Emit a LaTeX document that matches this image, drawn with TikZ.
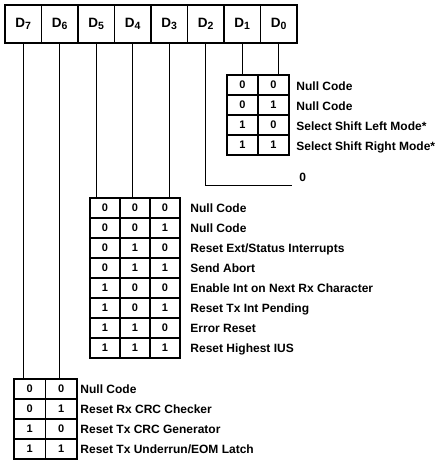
\documentclass[tikz,border=0pt]{standalone}
\usepackage{fontspec}
\setmainfont{Liberation Sans}
\usetikzlibrary{positioning}
\newcommand{\dsub}[1]{D\raisebox{-0.35ex}{\fontsize{10.5}{12}\selectfont #1}}

\begin{document}
\begin{tikzpicture}[x=1pt,y=-1pt,line width=0.9pt,
  reg/.style={draw,line width=1.7pt,minimum width=36.5pt,minimum height=38pt,
    inner sep=0pt,outer sep=0pt,font=\bfseries\fontsize{13.5}{15}\selectfont},
  bit/.style={draw,line width=1.2pt,minimum height=20pt,inner sep=0pt,
    outer sep=0pt,font=\bfseries\fontsize{11}{12}\selectfont},
  txt/.style={anchor=base west,inner sep=0pt,font=\bfseries\fontsize{12}{14}\selectfont}]
  \useasboundingbox (0,0) rectangle (436,460);
  % register bits
  \node[reg] (d7) at (23.25,24) {\dsub{7}};
  \node[reg,right=0pt of d7] (d6) {\dsub{6}};
  \node[reg,right=0pt of d6] (d5) {\dsub{5}};
  \node[reg,right=0pt of d5] (d4) {\dsub{4}};
  \node[reg,right=0pt of d4] (d3) {\dsub{3}};
  \node[reg,right=0pt of d3] (d2) {\dsub{2}};
  \node[reg,right=0pt of d2] (d1) {\dsub{1}};
  \node[reg,right=0pt of d1] (d0) {\dsub{0}};
  % D1 D0 table
  \foreach \a/\b/\t [count=\i from 0] in {0/0/Null Code,0/1/Null Code,
      1/0/{Select Shift Left Mode*},1/1/{Select Shift Right Mode*}} {
    \node[bit,minimum width=31pt] (mode\i a) at (242.5,85+20*\i) {\a};
    \node[bit,minimum width=31pt,right=0pt of mode\i a] (mode\i b) {\b};
    \node[txt] (mode\i t) at (296,90+20*\i) {\t};
  }
  % D5 D4 D3 table
  \foreach \a/\b/\c/\t [count=\i from 0] in {0/0/0/Null Code,0/0/1/Null Code,
      0/1/0/{Reset Ext/Status Interrupts},0/1/1/Send Abort,
      1/0/0/{Enable Int on Next Rx Character},1/0/1/{Reset Tx Int Pending},
      1/1/0/Error Reset,1/1/1/{Reset Highest IUS}} {
    \node[bit,minimum width=30pt] (cmd\i a) at (105,208+20*\i) {\a};
    \node[bit,minimum width=30pt,right=0pt of cmd\i a] (cmd\i b) {\b};
    \node[bit,minimum width=30pt,right=0pt of cmd\i b] (cmd\i c) {\c};
    \node[txt] (cmd\i t) at (190,212.3+20*\i) {\t};
  }
  % D7 D6 table
  \foreach \a/\b/\t [count=\i from 0] in {0/0/Null Code,0/1/{Reset Rx CRC Checker},
      1/0/{Reset Tx CRC Generator},1/1/{Reset Tx Underrun/EOM Latch}} {
    \node[bit,minimum width=31.5pt] (crc\i a) at (29.75,389+20*\i) {\a};
    \node[bit,minimum width=31.5pt,right=0pt of crc\i a] (crc\i b) {\b};
    \node[txt] (crc\i t) at (80,393.3+20*\i) {\t};
  }
  \node[txt] (zero) at (299,181.3) {0};
  % connectors
  \draw (d1) -- (d1 |- mode0a.north);
  \draw (d0) -- (d0 |- mode0b.north);
  \draw (d2) |- ([xshift=-7pt,yshift=-4.3pt]zero.base west);
  \draw (d5) -- (d5 |- cmd0a.north);
  \draw (d4) -- (d4 |- cmd0b.north);
  \draw (d3) -- (d3 |- cmd0c.north);
  \draw (d7) -- (d7 |- crc0a.north);
  \draw (d6) -- (d6 |- crc0b.north);
\end{tikzpicture}
\end{document}
